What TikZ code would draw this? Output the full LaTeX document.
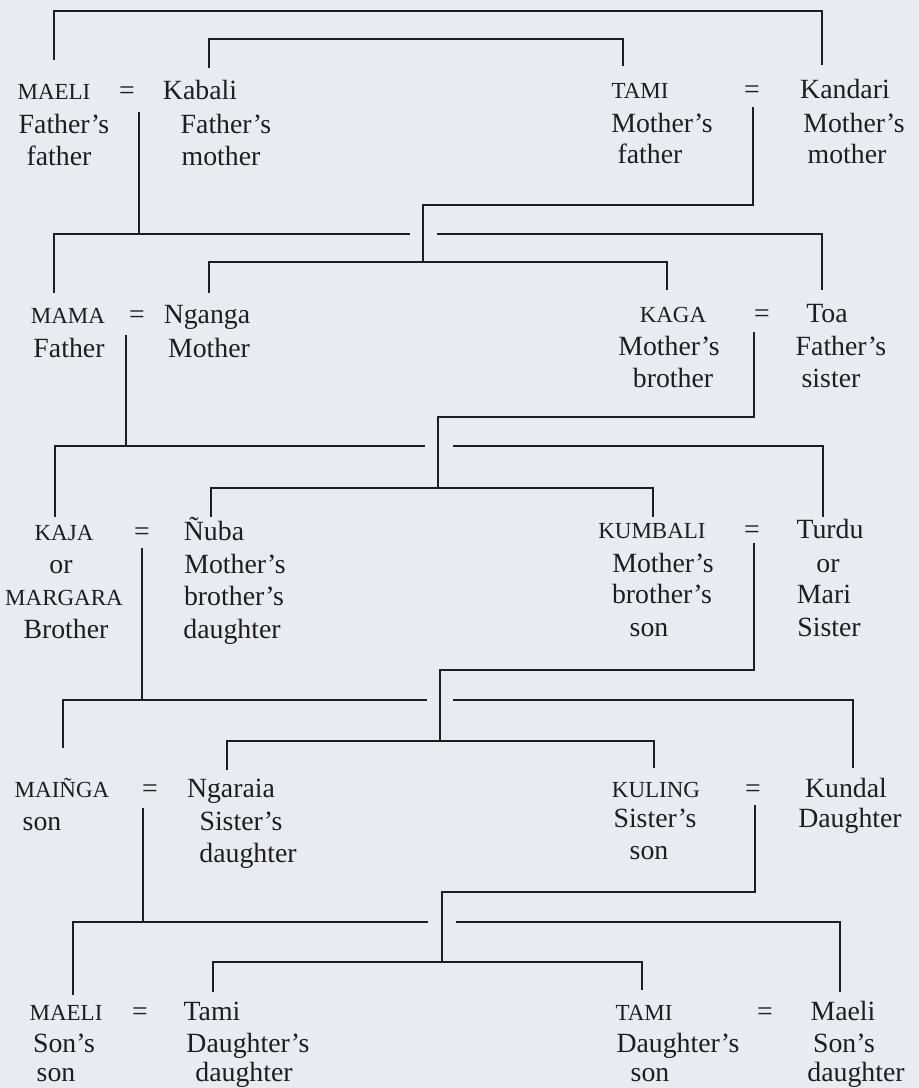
\documentclass[tikz,border=0pt]{standalone}
\usepackage{fontspec}
\setmainfont{Liberation Serif}
\definecolor{paper}{RGB}{234,235,240}
\definecolor{ink}{RGB}{30,30,32}
\begin{document}
\begin{tikzpicture}[x=1pt,y=-1pt,
  t/.style={anchor=base,inner sep=0pt,text=ink,font=\fontsize{27.8}{32}\selectfont},
  c/.style={anchor=base,inner sep=0pt,text=ink,font=\fontsize{23}{28}\selectfont},
  ln/.style={draw=ink,line width=1.8pt,line join=miter}]
\fill[paper] (0,0) rectangle (919,1088);
\useasboundingbox (0,0) rectangle (919,1088);

% ---------- generation 1
\node[c] (maeliA) at (54,99) {MAELI};
\node[t] (eqA) at (127,99) {=};
\node[t] (kabali) at (200,99) {Kabali};
\node[t] (ffA) at (64,133) {Father’s};
\node[t] (ffB) at (59,165) {father};
\node[t] (fmA) at (226,133) {Father’s};
\node[t] (fmB) at (221,165) {mother};
\node[c] (tamiA) at (640,98) {TAMI};
\node[t] (eqB) at (752,98) {=};
\node[t] (kandari) at (845,98) {Kandari};
\node[t] (mfA) at (662,132) {Mother’s};
\node[t] (mfB) at (650,163) {father};
\node[t] (mmA) at (854,132) {Mother’s};
\node[t] (mmB) at (847,163) {mother};

% ---------- generation 2
\node[c] (mama) at (68,323) {MAMA};
\node[t] (eqC) at (137,323) {=};
\node[t] (nganga) at (207,323) {Nganga};
\node[t] (fa) at (69,357) {Father};
\node[t] (mo) at (209,357) {Mother};
\node[c] (kaga) at (673,322) {KAGA};
\node[t] (eqD) at (762,322) {=};
\node[t] (toa) at (827,322) {Toa};
\node[t] (mbA) at (669,355) {Mother’s};
\node[t] (mbB) at (673,387) {brother};
\node[t] (fsA) at (841,355) {Father’s};
\node[t] (fsB) at (831,387) {sister};

% ---------- generation 3
\node[c] (kaja) at (64,540) {KAJA};
\node[t] (eqE) at (142,540) {=};
\node[t] (nuba) at (214,540) {Ñuba};
\node[t] (orA) at (61,573) {or};
\node[c] (margara) at (64,605) {MARGARA};
\node[t] (bro) at (66,638) {Brother};
\node[t] (mbdA) at (235,573) {Mother’s};
\node[t] (mbdB) at (234,605) {brother’s};
\node[t] (mbdC) at (232,638) {daughter};
\node[c] (kumbali) at (652,538) {KUMBALI};
\node[t] (eqF) at (752,538) {=};
\node[t] (turdu) at (830,538) {Turdu};
\node[t] (mbsA) at (663,572) {Mother’s};
\node[t] (mbsB) at (662,603) {brother’s};
\node[t] (mbsC) at (649,636) {son};
\node[t] (orB) at (828,572) {or};
\node[t] (mari) at (824,603) {Mari};
\node[t] (sis) at (829,636) {Sister};

% ---------- generation 4
\node[c] (mainga) at (62,797) {MAIÑGA};
\node[t] (eqG) at (150,797) {=};
\node[t] (ngaraia) at (231,797) {Ngaraia};
\node[t] (sonA) at (42,830) {son};
\node[t] (sdA) at (241,830) {Sister’s};
\node[t] (sdB) at (248,862) {daughter};
\node[c] (kuling) at (656,797) {KULING};
\node[t] (eqH) at (753,797) {=};
\node[t] (kundal) at (846,797) {Kundal};
\node[t] (ssA) at (655,827) {Sister’s};
\node[t] (ssB) at (649,859) {son};
\node[t] (dau) at (850,827) {Daughter};

% ---------- generation 5
\node[c] (maeliB) at (66,1020) {MAELI};
\node[t] (eqI) at (140,1020) {=};
\node[t] (tamiL) at (212,1020) {Tami};
\node[t] (ssonA) at (64,1052) {Son’s};
\node[t] (ssonB) at (56,1081) {son};
\node[t] (ddA) at (248,1052) {Daughter’s};
\node[t] (ddB) at (244,1081) {daughter};
\node[c] (tamiR) at (644,1020) {TAMI};
\node[t] (eqJ) at (765,1020) {=};
\node[t] (maeliR) at (843,1020) {Maeli};
\node[t] (dsA) at (678,1052) {Daughter’s};
\node[t] (dsB) at (650,1081) {son};
\node[t] (sdR) at (844,1052) {Son’s};
\node[t] (sdR2) at (856,1081) {daughter};

% ---------- connector end points
\coordinate (pMaeliA) at (54,60);   \coordinate (pKandari) at (822,65);
\coordinate (pKabali) at (209,68);  \coordinate (pTamiA) at (623,66);
\coordinate (mA) at (139,112);      \coordinate (mB) at (753,107);
\coordinate (pMama) at (54,293);    \coordinate (pToa) at (822,290);
\coordinate (pNganga) at (209,293); \coordinate (pKaga) at (667,290);
\coordinate (mC) at (126,335);      \coordinate (mD) at (754,332);
\coordinate (pKaja) at (55,517);    \coordinate (pTurdu) at (823,517);
\coordinate (pNuba) at (211,517);   \coordinate (pKumbali) at (653,517);
\coordinate (mE) at (142,548);      \coordinate (mF) at (754,543);
\coordinate (pMainga) at (63,748);  \coordinate (pKundal) at (853,768);
\coordinate (pNgaraia) at (227,770);\coordinate (pKuling) at (654,768);
\coordinate (mG) at (143,808);      \coordinate (mH) at (755,805);
\coordinate (pMaeliB) at (73,995);  \coordinate (pMaeliR) at (840,992);
\coordinate (pTamiL) at (213,992);  \coordinate (pTamiR) at (642,990);

% ---------- generation 1 links
\draw[ln] (pMaeliA) -- (54,11) -- (822,11) -- (pKandari);
\draw[ln] (pKabali) -- (209,39) -- (623,39) -- (pTamiA);
\draw[ln] (mA) -- (139,234);
\draw[ln] (pMama) -- (54,234) -- (410,234);
\draw[ln] (437,234) -- (822,234) -- (pToa);
\draw[ln] (mB) -- (753,205) -- (423,205) -- (423,262);
\draw[ln] (pNganga) -- (209,262) -- (667,262) -- (pKaga);

% ---------- generation 2 links
\draw[ln] (mC) -- (126,446);
\draw[ln] (pKaja) -- (55,446) -- (425,446);
\draw[ln] (453,446) -- (823,446) -- (pTurdu);
\draw[ln] (mD) -- (754,417) -- (438,417) -- (438,488);
\draw[ln] (pNuba) -- (211,488) -- (653,488) -- (pKumbali);

% ---------- generation 3 links
\draw[ln] (mE) -- (142,700);
\draw[ln] (pMainga) -- (63,700) -- (427,700);
\draw[ln] (453,700) -- (853,700) -- (pKundal);
\draw[ln] (mF) -- (754,670) -- (440,670) -- (440,741);
\draw[ln] (pNgaraia) -- (227,741) -- (654,741) -- (pKuling);

% ---------- generation 4 links
\draw[ln] (mG) -- (143,922);
\draw[ln] (pMaeliB) -- (73,922) -- (428,922);
\draw[ln] (456,922) -- (840,922) -- (pMaeliR);
\draw[ln] (mH) -- (755,892) -- (442,892) -- (442,962);
\draw[ln] (pTamiL) -- (213,962) -- (642,962) -- (pTamiR);
\end{tikzpicture}
\end{document}
